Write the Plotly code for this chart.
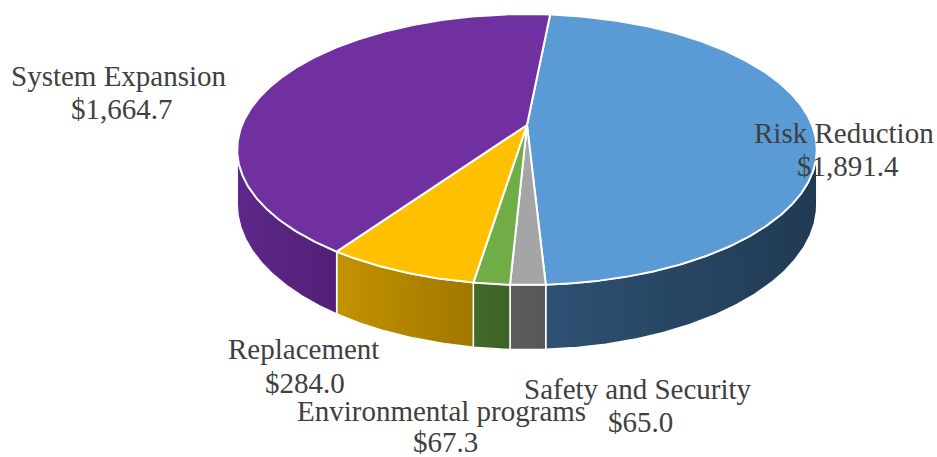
import math
import plotly.graph_objects as go

# Capital program by category (millions of dollars)
categories = ["Risk Reduction", "Safety and Security", "Environmental programs",
              "Replacement", "System Expansion"]
values = [1891.4, 65.0, 67.3, 284.0, 1664.7]

# Slice styling: top face colour and left/right shades of the side wall
top_colors = ["#5B9BD5", "#A5A5A5", "#70AD47", "#FFC000", "#7030A0"]
side_colors = [("#2D5173", "#213A52"), ("#5C5C5C", "#575757"), ("#43692B", "#3E6227"),
               ("#C49300", "#A07700"), ("#5D2889", "#521F78")]

# Label anchor points (pixel space): name line and value line
label_pos = {
    "Risk Reduction": ((844, 133), (848, 166)),
    "Safety and Security": ((638, 389), (640, 422)),
    "Environmental programs": ((441, 411), (445, 442)),
    "Replacement": ((303, 349), (305, 383)),
    "System Expansion": ((119, 76), (122, 109)),
}

W, H = 937, 457
CX, CY = 527, 125          # projected centre of the pie's top face
RX, RZ = 285, 131          # horizontal / depth radii of the disc
PERSP = 0.181              # perspective strength
THICK = 53                 # wall thickness
START = -84.5              # angle of the first slice edge (degrees, clockwise)


def project(theta_deg, drop=0.0):
    t = math.radians(theta_deg)
    x, z = math.cos(t), math.sin(t)
    w = 1 - PERSP * z
    return CX + RX * x / w, CY + (RZ * z + drop) / w


def arc(a0, a1, drop=0.0, step=0.5):
    n = max(2, int(abs(a1 - a0) / step) + 1)
    pts = [project(a0 + (a1 - a0) * i / (n - 1), drop) for i in range(n)]
    return [p[0] for p in pts], [p[1] for p in pts]


total = sum(values)
edges = [START]
for v in values:
    edges.append(edges[-1] + 360.0 * v / total)

vis_lo = math.degrees(math.asin(PERSP))
vis_hi = 180 - vis_lo

fig = go.Figure()

# Side walls (only the part facing the viewer)
for i, cat in enumerate(categories):
    a0, a1 = edges[i], edges[i + 1]
    for shift in (0, 360, -360):
        lo, hi = max(a0 + shift, vis_lo), min(a1 + shift, vis_hi)
        if hi - lo > 0.01:
            tx, ty = arc(lo, hi)
            bx, by = arc(hi, lo, THICK)
            c1, c2 = side_colors[i]
            fig.add_trace(go.Scatter(
                x=tx + bx + [tx[0]], y=ty + by + [ty[0]],
                mode="lines", fill="toself",
                fillgradient=dict(type="horizontal", colorscale=[[0, c1], [1, c2]]),
                line=dict(color="white", width=1.5),
                hoverinfo="skip", showlegend=False))

# Top faces
for i, cat in enumerate(categories):
    ax, ay = arc(edges[i], edges[i + 1])
    fig.add_trace(go.Scatter(
        x=[CX] + ax + [CX], y=[CY] + ay + [CY],
        mode="lines", fill="toself", fillcolor=top_colors[i],
        line=dict(color="white", width=2),
        name=cat, hoverinfo="name", showlegend=False))

# Labels
font = dict(family="Liberation Serif", size=29, color="#404040")
for cat, v in zip(categories, values):
    (nx, ny), (vx, vy) = label_pos[cat]
    fig.add_annotation(x=nx, y=ny, text=cat, showarrow=False, font=font,
                       xanchor="center", yanchor="middle")
    fig.add_annotation(x=vx, y=vy, text=f"${v:,.1f}", showarrow=False, font=font,
                       xanchor="center", yanchor="middle")

fig.update_layout(
    width=W, height=H,
    margin=dict(l=0, r=0, t=0, b=0),
    paper_bgcolor="white", plot_bgcolor="white",
    xaxis=dict(range=[0, W], visible=False, fixedrange=True),
    yaxis=dict(range=[H, 0], visible=False, fixedrange=True),
    showlegend=False,
)

fig.write_html("out.html")
